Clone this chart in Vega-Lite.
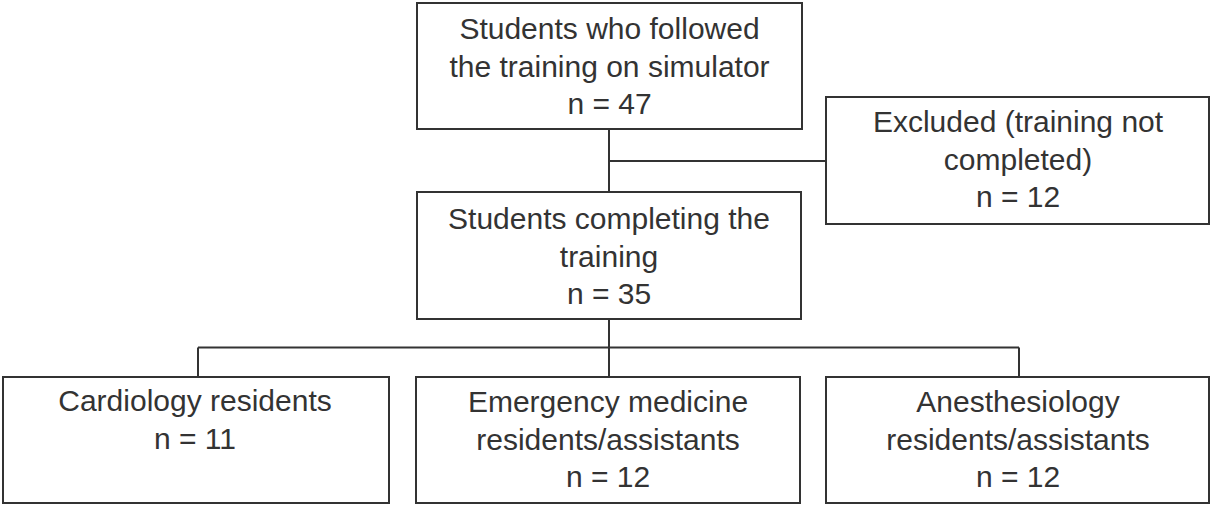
{
  "$schema": "https://vega.github.io/schema/vega-lite/v6.json",
  "width": 1211,
  "height": 505,
  "padding": 0,
  "autosize": "none",
  "background": "white",
  "config": {"view": {"stroke": null}},
  "datasets": {
    "boxes": [
      {"x1": 417, "x2": 802, "y1": 3, "y2": 129, "cx": 609.5, "cy": 30, "label": "Students who followed\nthe training on simulator\nn = 47"},
      {"x1": 826, "x2": 1209, "y1": 97, "y2": 224, "cx": 1018, "cy": 123, "label": "Excluded (training not\ncompleted)\nn = 12"},
      {"x1": 417, "x2": 801, "y1": 192, "y2": 319, "cx": 609, "cy": 220, "label": "Students completing the\ntraining\nn = 35"},
      {"x1": 3, "x2": 389, "y1": 377, "y2": 503, "cx": 195, "cy": 402, "label": "Cardiology residents\nn = 11"},
      {"x1": 416, "x2": 800, "y1": 377, "y2": 503, "cx": 608, "cy": 403, "label": "Emergency medicine\nresidents/assistants\nn = 12"},
      {"x1": 826, "x2": 1209, "y1": 377, "y2": 503, "cx": 1018, "cy": 403, "label": "Anesthesiology\nresidents/assistants\nn = 12"}
    ],
    "links": [
      {"x1": 609, "x2": 609, "y1": 129, "y2": 192},
      {"x1": 609, "x2": 826, "y1": 161, "y2": 161},
      {"x1": 609, "x2": 609, "y1": 319, "y2": 377},
      {"x1": 198, "x2": 1019, "y1": 347.5, "y2": 347.5},
      {"x1": 198, "x2": 198, "y1": 347.5, "y2": 377},
      {"x1": 1019, "x2": 1019, "y1": 347.5, "y2": 377}
    ]
  },
  "layer": [
    {
      "data": {"name": "links"},
      "mark": {"type": "rule", "stroke": "#333333", "strokeWidth": 2},
      "encoding": {
        "x": {"field": "x1", "type": "quantitative", "scale": {"domain": [0, 1211], "nice": false, "zero": false}, "axis": null},
        "x2": {"field": "x2"},
        "y": {"field": "y1", "type": "quantitative", "scale": {"domain": [0, 505], "nice": false, "zero": false, "reverse": true}, "axis": null},
        "y2": {"field": "y2"}
      }
    },
    {
      "data": {"name": "boxes"},
      "mark": {"type": "rect", "fill": "white", "stroke": "#333333", "strokeWidth": 2},
      "encoding": {
        "x": {"field": "x1", "type": "quantitative", "scale": {"domain": [0, 1211], "nice": false, "zero": false}, "axis": null},
        "x2": {"field": "x2"},
        "y": {"field": "y1", "type": "quantitative", "scale": {"domain": [0, 505], "nice": false, "zero": false, "reverse": true}, "axis": null},
        "y2": {"field": "y2"}
      }
    },
    {
      "data": {"name": "boxes"},
      "mark": {"type": "text", "font": "Liberation Sans", "fontSize": 30, "lineHeight": 37.5, "lineBreak": "\n", "align": "center", "baseline": "middle", "color": "#333333"},
      "encoding": {
        "x": {"field": "cx", "type": "quantitative", "scale": {"domain": [0, 1211], "nice": false, "zero": false}, "axis": null},
        "y": {"field": "cy", "type": "quantitative", "scale": {"domain": [0, 505], "nice": false, "zero": false, "reverse": true}, "axis": null},
        "text": {"field": "label"}
      }
    }
  ]
}
